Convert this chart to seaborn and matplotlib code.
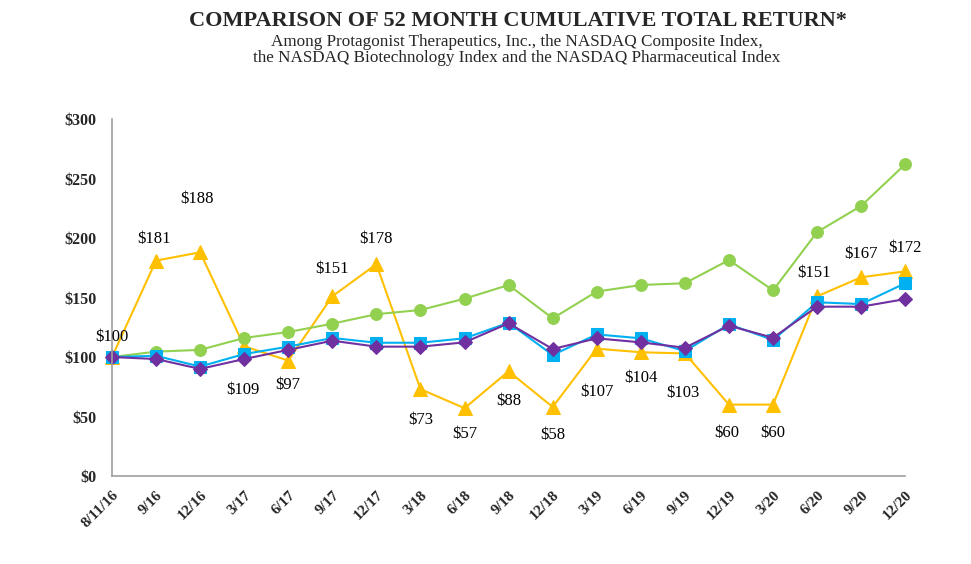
import numpy as np
import pandas as pd
import seaborn as sns
import matplotlib.pyplot as plt

# x axis categories
periods = ["8/11/16", "9/16", "12/16", "3/17", "6/17", "9/17", "12/17", "3/18", "6/18",
           "9/18", "12/18", "3/19", "6/19", "9/19", "12/19", "3/20", "6/20", "9/20", "12/20"]

# series values
protagonist = [100, 181, 188, 109, 97, 151, 178, 73, 57, 88, 58, 107, 104, 103, 60, 60, 151, 167, 172]
nasdaq_composite = [100, 104.5, 106, 116, 121, 128, 136, 139.5, 149, 160.5, 132.5, 155, 160.5, 162,
                    181.5, 156, 205, 227, 262]
nasdaq_biotech = [100, 101, 92, 102.5, 108.7, 116, 112, 112, 115.7, 128.8, 101.7, 119, 115.7, 105,
                  127.5, 114.3, 146, 144.5, 162]
nasdaq_pharma = [100, 98.3, 90, 98.3, 106, 113.7, 108.7, 108.7, 112.3, 128.3, 106.7, 115.7, 112.3,
                 107.8, 126.3, 116.2, 142.3, 142.3, 148.7]

# label offsets in pixels (style, not data)
label_dy = [20, 22, 53, -44, -24, 27, 25, -31, -26, -30, -28, -43, -26, -40, -28, -28, 23, 23, 23]
label_dx = [0, -2, -3, -1, 0, 0, 0, 0, 0, 0, 0, 0, 0, -2, -2, 0, -3, 0, 0]

sns.set_style("white")
plt.rcParams['font.family'] = ['Liberation Serif', 'DejaVu Serif']

fig = plt.figure(figsize=(9.71, 5.64), dpi=100)
ax = fig.add_axes([0.1153, 0.156, 0.817, 0.633])

x = np.arange(len(periods))
df = pd.DataFrame({"x": x, "prot": protagonist, "comp": nasdaq_composite,
                   "bio": nasdaq_biotech, "pharma": nasdaq_pharma})

series = [
    ("prot", "#FFC000", "^", 10),
    ("comp", "#92D050", "o", 8.5),
    ("bio", "#00B0F0", "s", 8),
    ("pharma", "#7030A0", "D", 7),
]
for col, color, mk, ms in series:
    sns.lineplot(data=df, x="x", y=col, ax=ax, color=color, marker=mk, markersize=ms,
                 markeredgecolor=color, linewidth=1.5, clip_on=False)

for i, v in enumerate(protagonist):
    ax.annotate(f"${v:.0f}", (i, v), xytext=(label_dx[i], label_dy[i]), textcoords="offset pixels",
                ha="center", va="center", fontsize=12, color="black")

ax.set_xlim(0, 18)
ax.set_ylim(0, 300)
ax.set_xticks(x)
ax.set_xticklabels(periods, rotation=45, ha="right", rotation_mode="anchor",
                   fontsize=11, fontweight="bold")
ax.set_yticks(np.arange(0, 301, 50))
ax.set_yticklabels([f"${t}" for t in range(0, 301, 50)], fontsize=11.5, fontweight="bold")
ax.set_xlabel("")
ax.set_ylabel("")

for s in ["top", "right"]:
    ax.spines[s].set_visible(False)
for s in ["left", "bottom"]:
    ax.spines[s].set_color("#A0A0A0")
    ax.spines[s].set_linewidth(1.2)
ax.tick_params(axis="both", direction="out", length=5, width=1, color="#A0A0A0")
ax.tick_params(axis="y", pad=6)
ax.tick_params(axis="x", pad=4)

fig.text(0.533, 0.962, "COMPARISON OF 52 MONTH CUMULATIVE TOTAL RETURN*", ha="center", va="center",
         fontsize=16, fontweight="bold")
fig.text(0.532, 0.925, "Among Protagonist Therapeutics, Inc., the NASDAQ Composite Index,",
         ha="center", va="center", fontsize=12.3)
fig.text(0.532, 0.898, "the NASDAQ Biotechnology Index and the NASDAQ Pharmaceutical Index",
         ha="center", va="center", fontsize=12.3)

fig.savefig("out.png", dpi=100)
